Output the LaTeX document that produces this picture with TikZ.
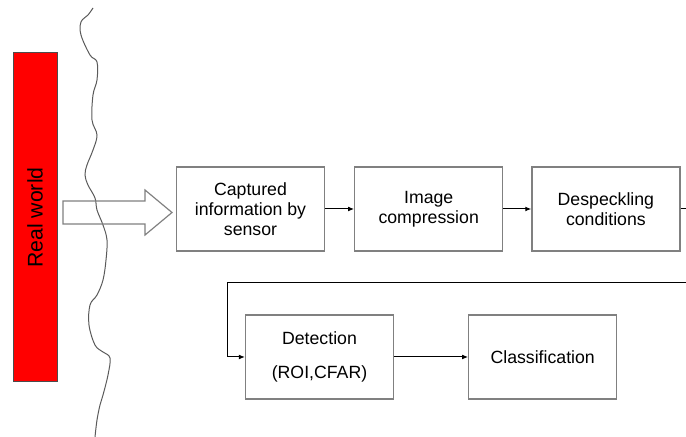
\documentclass[tikz,border=0pt]{standalone}
\usepackage{fontspec}
\setmainfont{Liberation Sans}
\usetikzlibrary{positioning,arrows.meta}
\definecolor{realred}{RGB}{255,0,0}
\definecolor{boxgray}{RGB}{128,128,128}
\definecolor{wavegray}{RGB}{90,90,90}

\begin{document}
\begin{tikzpicture}[x=0.5pt, y=-0.5pt,
	stage/.style={rectangle, draw=boxgray, line width=0.6pt, align=center, minimum width=74pt, minimum height=42pt, inner sep=0pt, font=\fontsize{8.85}{9.9}\selectfont},
	flow/.style={black, line width=0.5pt, -{Latex[length=3pt, width=2.4pt]}}]
	\useasboundingbox (0,0) rectangle (686,437);

	% real world and the sensor boundary
	\node[rectangle, draw=black!70, fill=realred, line width=0.5pt, minimum width=22pt, minimum height=164.5pt, inner sep=0pt] (R) at (35,217.5) {};
	\node[rotate=90, font=\fontsize{10.6}{12}\selectfont] (rl) at (R.center) {Real world};

	\draw[wavegray, line width=0.5pt] plot [smooth, tension=0.6] coordinates {(93,8) (88,15) (81,22) (81,35) (90,55) (97,62) (97,80) (93,95) (92,120) (97,135) (93,150) (87,165) (85,175) (88,185) (95,198) (97,210) (103,225) (107,240) (106,260) (103,280) (97,295) (90,305) (89,325) (95,345) (103,352) (110,358) (108,375) (103,395) (100,405) (97,420) (95,437)};

	\draw[boxgray, line width=0.6pt] (63,201) -- (145,201) -- (145,190) -- (172,212.5) -- (145,235) -- (145,224) -- (63,224) -- cycle;

	% first row
	\node[stage] (cap) at (250.5,209) {Captured\\information by\\sensor};
	\node[stage, right=14.5pt of cap] (comp) {Image\\compression};
	\node[stage, right=14pt of comp] (desp) {Despeckling\\conditions};

	\draw[flow] (cap) -- (comp);
	\draw[flow] (comp) -- (desp);

	% second row
	\node[stage] (det) at (319.5,357) {Detection\\[7pt](ROI,CFAR)};
	\node[stage, right=37pt of det] (cls) {Classification};

	\coordinate (outR) at (686,209);
	\coordinate (backR) at (686,283);
	\coordinate (backL) at (227,283);

	\draw[black, line width=0.5pt] (desp) -- (outR);
	\draw[flow] (backR) -- (backL) |- (det);
	\draw[flow] (det) -- (cls);
\end{tikzpicture}
\end{document}
